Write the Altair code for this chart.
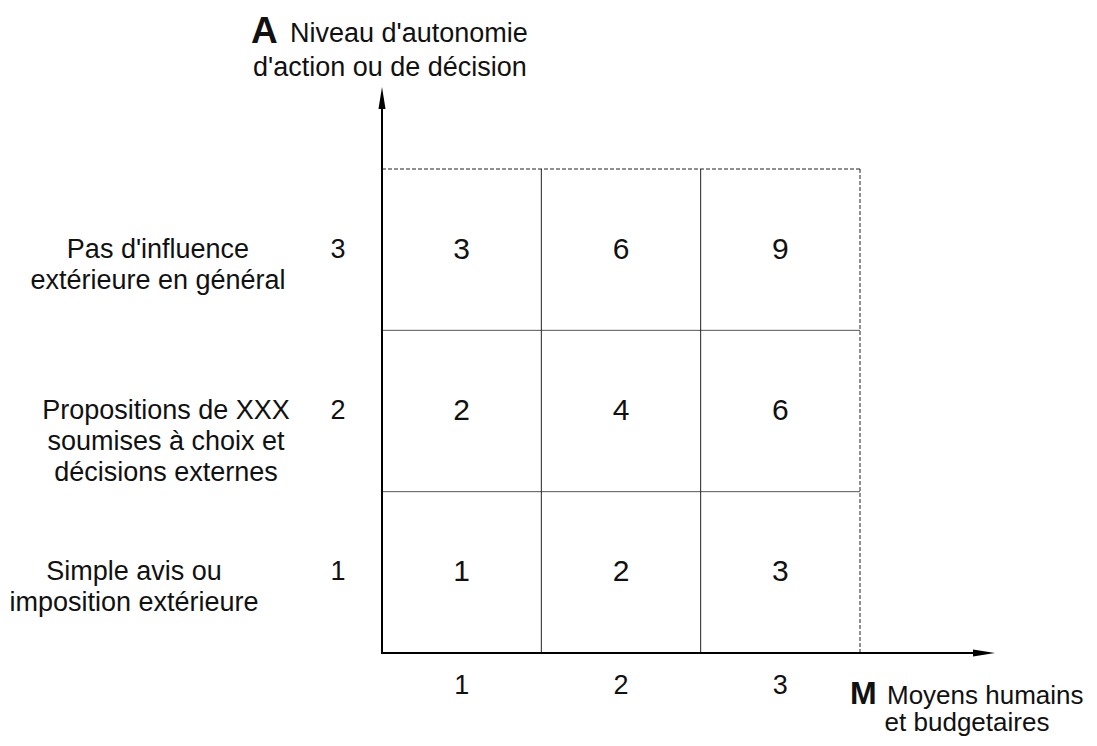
import altair as alt
import pandas as pd

# ---- data ----
cols = [1, 2, 3]                      # M : moyens humains et budgetaires
rows = [1, 2, 3]                      # A : niveau d'autonomie
cell_col = [1, 2, 3, 1, 2, 3, 1, 2, 3]
cell_row = [1, 1, 1, 2, 2, 2, 3, 3, 3]
cell_score = [1, 2, 3, 2, 4, 6, 3, 6, 9]
row_labels = [
    "Simple avis ou\nimposition extérieure",
    "Propositions de XXX\nsoumises à choix et\ndécisions externes",
    "Pas d'influence\nextérieure en général",
]
y_letter = "A"
y_title = ["Niveau d'autonomie", "d'action ou de décision"]
x_letter = "M"
x_title = ["Moyens humains", "et budgetaires"]

FONT = "Liberation Sans"
W, H = 478, 484

cells = pd.DataFrame({"col": cell_col, "row": cell_row, "score": cell_score})
cells["xc"] = cells["col"] - 0.5
cells["yc"] = cells["row"] - 0.5

xs = alt.Scale(domain=[0, 3], nice=False, zero=False)
ys = alt.Scale(domain=[0, 3], nice=False, zero=False)

# grid boundaries
bounds = pd.DataFrame({"b": cols, "lo": [0] * 3, "hi": [max(cols)] * 3})
inner = bounds[bounds["b"] < max(cols)]
outer = bounds[bounds["b"] == max(cols)]

v_inner = alt.Chart(inner).mark_rule(color="#222", strokeWidth=1).encode(
    x=alt.X("b:Q", scale=xs, axis=None), y=alt.Y("lo:Q", scale=ys, axis=None), y2="hi:Q")
h_inner = alt.Chart(inner).mark_rule(color="#555", strokeWidth=1).encode(
    y=alt.Y("b:Q", scale=ys, axis=None), x=alt.X("lo:Q", scale=xs, axis=None), x2="hi:Q")
v_outer = alt.Chart(outer).mark_rule(color="#222", strokeWidth=1, strokeDash=[4, 2]).encode(
    x=alt.X("b:Q", scale=xs, axis=None), y=alt.Y("lo:Q", scale=ys, axis=None), y2="hi:Q")
h_outer = alt.Chart(outer).mark_rule(color="#222", strokeWidth=1, strokeDash=[4, 2]).encode(
    y=alt.Y("b:Q", scale=ys, axis=None), x=alt.X("lo:Q", scale=xs, axis=None), x2="hi:Q")

cell_text = alt.Chart(cells).mark_text(font=FONT, fontSize=30, color="#111",
                                       baseline="middle", align="center").encode(
    x=alt.X("xc:Q", scale=xs, axis=None), y=alt.Y("yc:Q", scale=ys, axis=None),
    text="score:Q")

ticks = pd.DataFrame({"v": cols, "c": [c - 0.5 for c in cols]})
x_ticks = alt.Chart(ticks).mark_text(font=FONT, fontSize=27, color="#111",
                                     baseline="middle", align="center").encode(
    x=alt.X("c:Q", scale=xs, axis=None), y=alt.value(517), text="v:Q")
y_ticks = alt.Chart(ticks).mark_text(font=FONT, fontSize=27, color="#111",
                                     baseline="middle", align="center").encode(
    y=alt.Y("c:Q", scale=ys, axis=None), x=alt.value(-44), text="v:Q")

lab_df = pd.DataFrame({"row": rows, "label": row_labels})
lab_df["c"] = lab_df["row"] - 0.5

def row_text(r, xpix):
    return alt.Chart(lab_df).transform_filter(alt.datum.row == r).mark_text(
        font=FONT, fontSize=27, color="#111", baseline="middle", align="center",
        lineBreak="\n", lineHeight=31).encode(
        y=alt.Y("c:Q", scale=ys, axis=None), x=alt.value(xpix), text="label:N")

row_texts = [row_text(1, -248), row_text(2, -216), row_text(3, -224)]

# axes with arrows
one = pd.DataFrame({"a": [0]})
x_axis = alt.Chart(one).mark_rule(color="#000", strokeWidth=2).encode(
    x=alt.value(-1), x2=alt.value(602), y=alt.value(H))
y_axis = alt.Chart(one).mark_rule(color="#000", strokeWidth=2).encode(
    y=alt.value(H + 1), y2=alt.value(-71), x=alt.value(0))
x_head = alt.Chart(one).mark_point(
    shape="M1,0L-1,-0.32L-1,0.32Z", filled=True, color="#000", opacity=1, size=484).encode(
    x=alt.value(602), y=alt.value(H))
y_head = alt.Chart(one).mark_point(
    shape="M0,-1L-0.32,1L0.32,1Z", filled=True, color="#000", opacity=1, size=484).encode(
    x=alt.value(0), y=alt.value(-71))

def txt(s, x, y, size, bold=False, align="left"):
    return alt.Chart(pd.DataFrame({"t": [s]})).mark_text(
        font=FONT, fontSize=size, fontWeight="bold" if bold else "normal",
        color="#111", align=align, baseline="middle").encode(
        x=alt.value(x), y=alt.value(y), text="t:N")

titles = [
    txt(y_letter, -131, -137, 37, bold=True),
    txt(y_title[0], -92, -135, 27),
    txt(y_title[1], -129, -101, 27),
    txt(x_letter, 468, 525, 32, bold=True),
    txt(x_title[0], 505, 527, 26),
    txt(x_title[1], 585, 554, 26, align="center"),
]

chart = alt.layer(
    h_inner, v_inner, h_outer, v_outer, cell_text, x_ticks, y_ticks, *row_texts,
    x_axis, y_axis, x_head, y_head, *titles
).properties(
    width=W, height=H,
    autosize=alt.AutoSizeParams(type="none"),
    padding={"left": 374, "top": 161, "right": 229, "bottom": 85},
    background="white",
).configure_view(stroke=None)

chart.save("out.html", embed_options={"renderer": "svg", "actions": False})
